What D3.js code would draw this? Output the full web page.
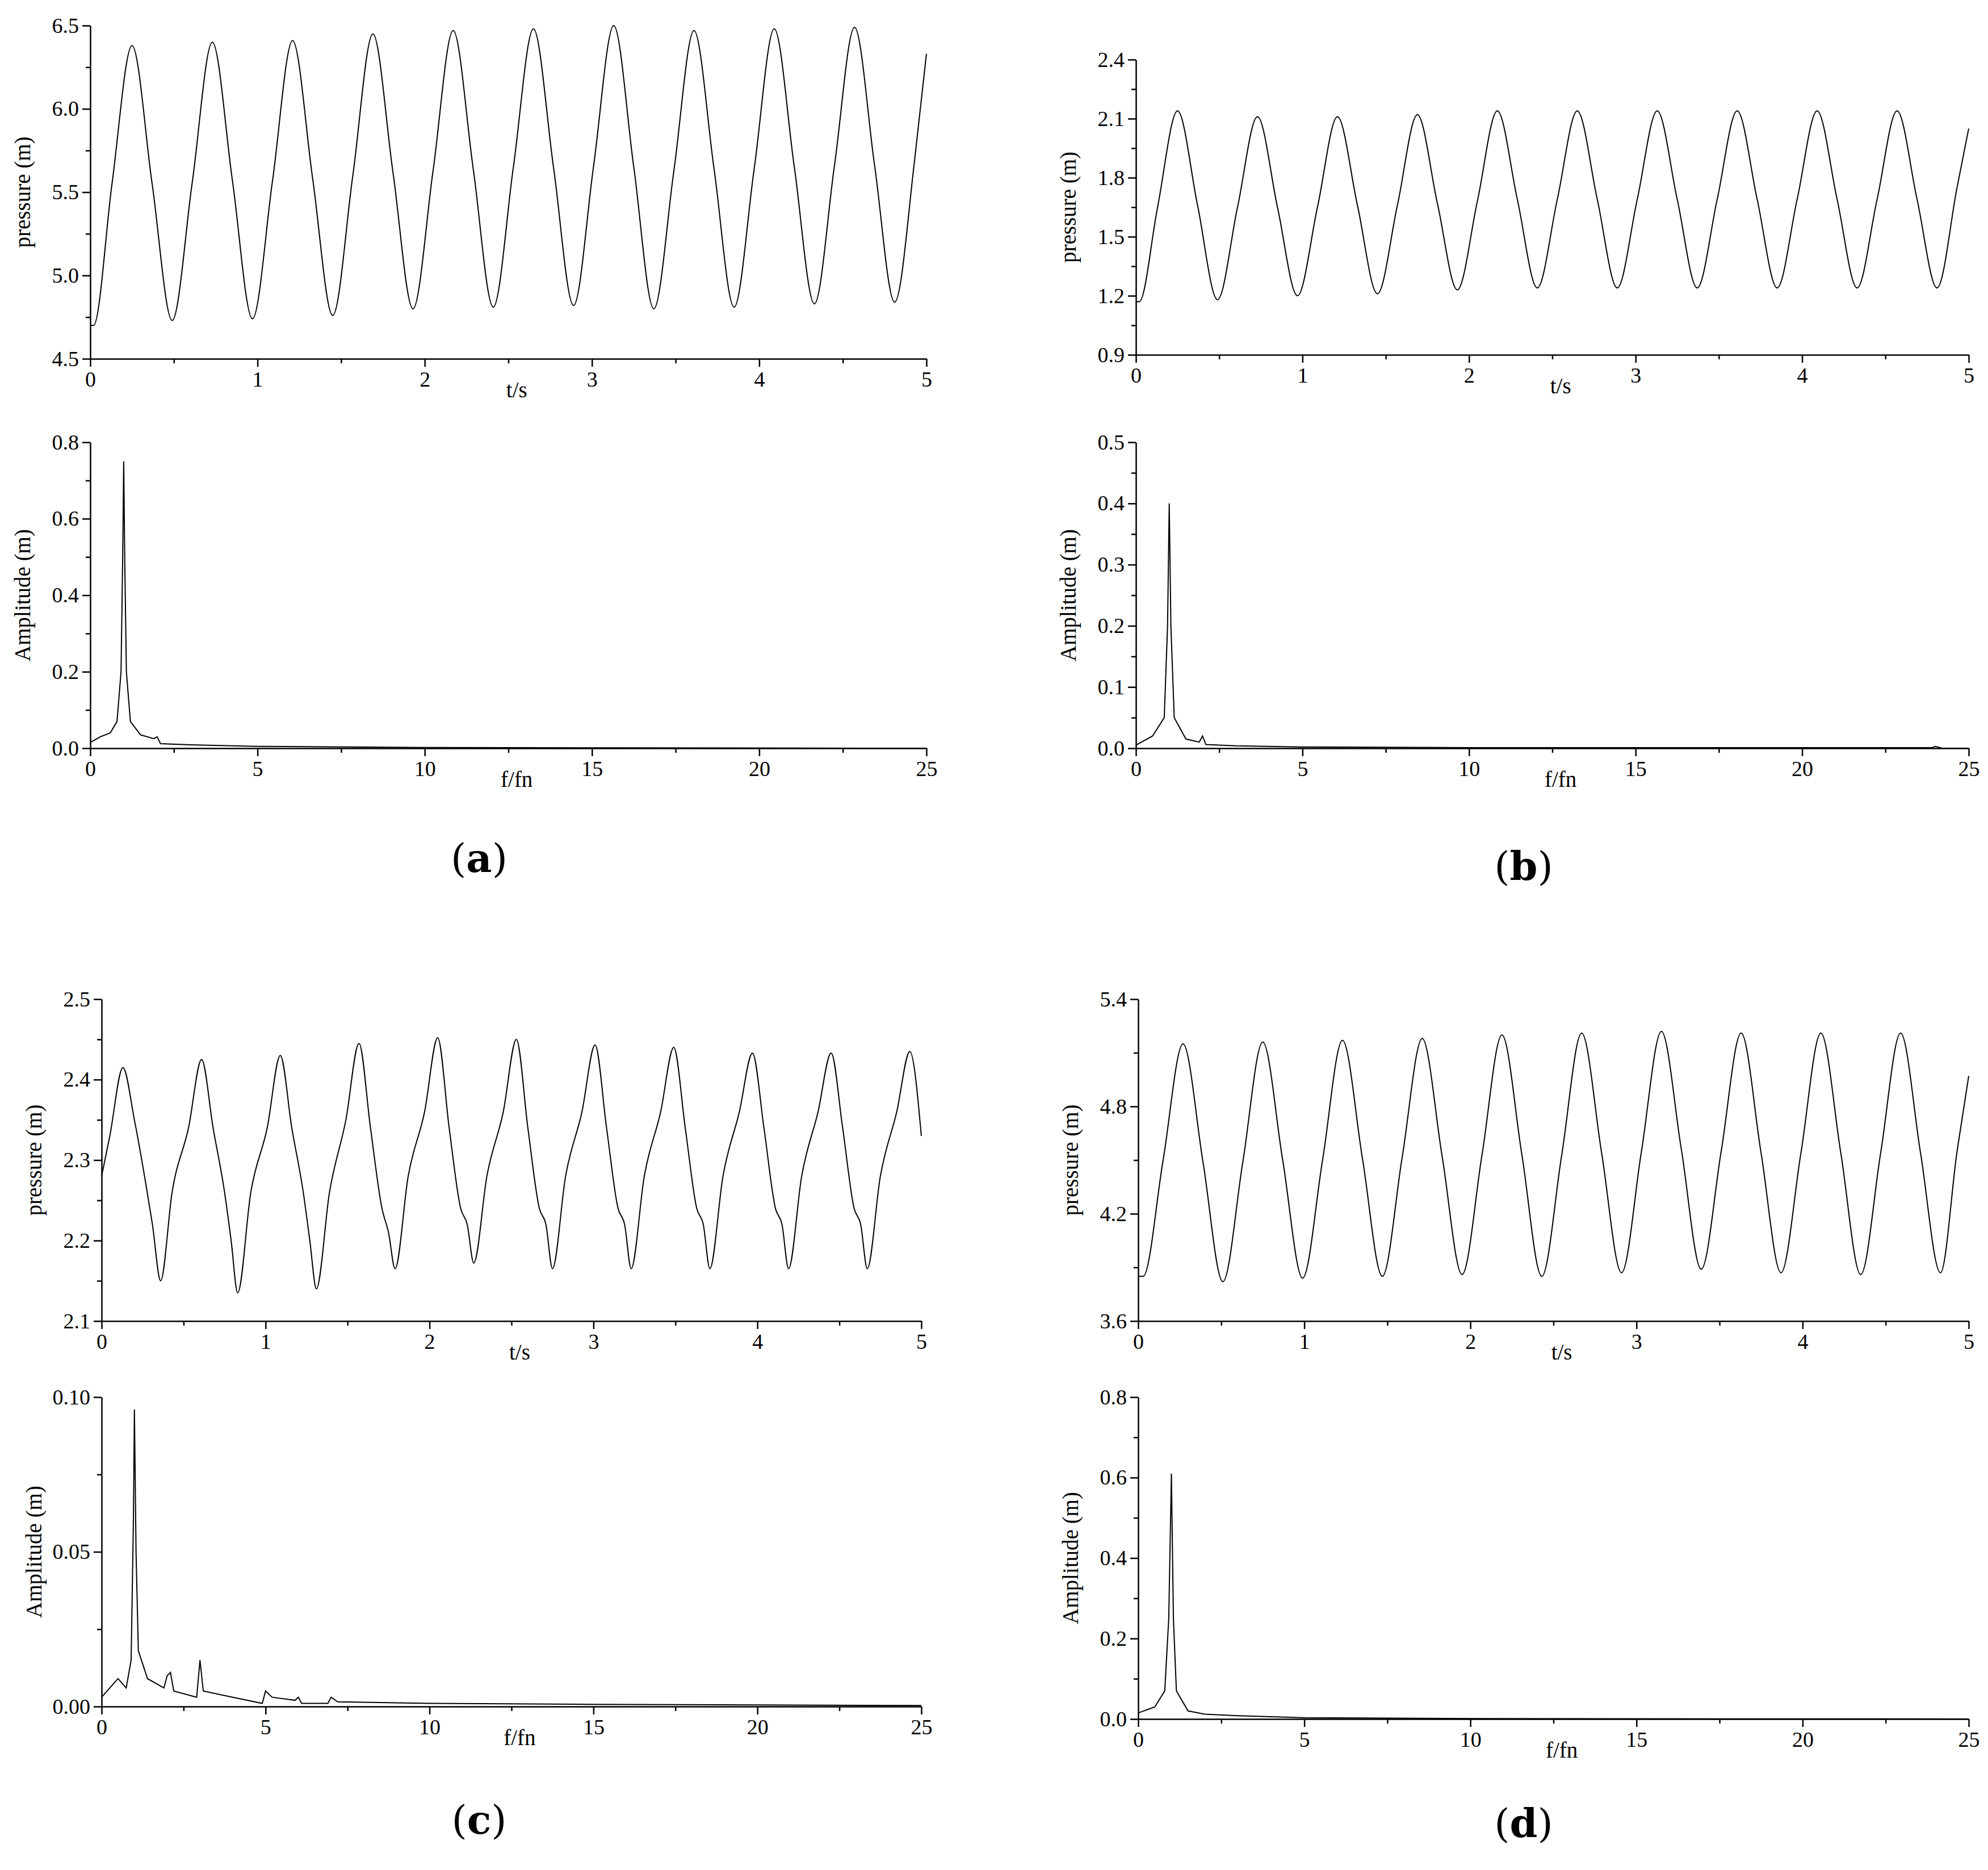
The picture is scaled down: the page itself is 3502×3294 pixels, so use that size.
<!DOCTYPE html>
<html><head><meta charset="utf-8">
<script src="https://cdn.jsdelivr.net/npm/d3@7"></script>
<style>body{margin:0;background:#fff}</style></head>
<body><svg id="c" width="3502" height="3294"></svg>
<script>
// ---- data ----
const timeA = [[0,4.70],[0.02,4.70],[0.13,5.55],[0.25,6.38],[0.37,5.55],[0.49,4.73],[0.61,5.56],[0.73,6.40],[0.85,5.57],[0.97,4.74],[1.09,5.57],[1.21,6.41],[1.33,5.58],[1.45,4.76],[1.57,5.60],[1.69,6.45],[1.81,5.62],[1.93,4.80],[2.05,5.63],[2.17,6.47],[2.29,5.64],[2.41,4.81],[2.53,5.65],[2.65,6.48],[2.77,5.65],[2.89,4.82],[3.01,5.66],[3.13,6.50],[3.25,5.65],[3.37,4.80],[3.49,5.63],[3.61,6.47],[3.73,5.64],[3.85,4.81],[3.97,5.64],[4.09,6.48],[4.21,5.65],[4.33,4.83],[4.45,5.66],[4.57,6.49],[4.69,5.66],[4.81,4.84],[4.93,5.70],[5.0,6.33]];
const timeB = [[0,1.17],[0.02,1.17],[0.13,1.65],[0.25,2.14],[0.37,1.66],[0.49,1.18],[0.61,1.65],[0.73,2.11],[0.85,1.65],[0.97,1.20],[1.09,1.65],[1.21,2.11],[1.33,1.66],[1.45,1.21],[1.57,1.66],[1.69,2.12],[1.81,1.67],[1.93,1.23],[2.05,1.68],[2.17,2.14],[2.29,1.69],[2.41,1.24],[2.53,1.69],[2.65,2.14],[2.77,1.69],[2.89,1.24],[3.01,1.69],[3.13,2.14],[3.25,1.69],[3.37,1.24],[3.49,1.69],[3.61,2.14],[3.73,1.69],[3.85,1.24],[3.97,1.69],[4.09,2.14],[4.21,1.69],[4.33,1.24],[4.45,1.69],[4.57,2.14],[4.69,1.69],[4.81,1.24],[4.93,1.75],[5.0,2.05]];
const timeC = [[0,2.28],[0.05,2.33],[0.13,2.415],[0.2,2.35],[0.27,2.27],[0.31,2.22],[0.36,2.15],[0.43,2.26],[0.53,2.34],[0.61,2.425],[0.68,2.34],[0.75,2.26],[0.79,2.20],[0.83,2.135],[0.91,2.26],[1.01,2.34],[1.09,2.43],[1.16,2.34],[1.23,2.26],[1.27,2.20],[1.31,2.14],[1.39,2.26],[1.49,2.35],[1.57,2.445],[1.64,2.34],[1.71,2.24],[1.75,2.21],[1.79,2.165],[1.87,2.28],[1.97,2.36],[2.05,2.452],[2.12,2.34],[2.19,2.24],[2.23,2.22],[2.27,2.172],[2.35,2.28],[2.45,2.36],[2.53,2.45],[2.60,2.34],[2.67,2.24],[2.71,2.22],[2.75,2.165],[2.83,2.28],[2.93,2.36],[3.01,2.443],[3.08,2.34],[3.15,2.24],[3.19,2.22],[3.23,2.165],[3.31,2.28],[3.41,2.36],[3.49,2.44],[3.56,2.34],[3.63,2.24],[3.67,2.22],[3.71,2.165],[3.79,2.28],[3.89,2.36],[3.97,2.433],[4.04,2.34],[4.11,2.24],[4.15,2.22],[4.19,2.165],[4.27,2.28],[4.37,2.36],[4.45,2.433],[4.52,2.34],[4.59,2.24],[4.63,2.22],[4.67,2.165],[4.75,2.28],[4.85,2.36],[4.93,2.435],[5.0,2.33]];
const timeD = [[0,3.85],[0.03,3.85],[0.15,4.50],[0.27,5.15],[0.39,4.49],[0.51,3.82],[0.63,4.49],[0.75,5.16],[0.87,4.50],[0.99,3.84],[1.11,4.50],[1.23,5.17],[1.35,4.51],[1.47,3.85],[1.59,4.52],[1.71,5.18],[1.83,4.52],[1.95,3.86],[2.07,4.53],[2.19,5.20],[2.31,4.53],[2.43,3.85],[2.55,4.53],[2.67,5.21],[2.79,4.54],[2.91,3.87],[3.03,4.55],[3.15,5.22],[3.27,4.56],[3.39,3.89],[3.51,4.55],[3.63,5.21],[3.75,4.54],[3.87,3.87],[3.99,4.54],[4.11,5.21],[4.23,4.54],[4.35,3.86],[4.47,4.54],[4.59,5.21],[4.71,4.54],[4.83,3.87],[4.93,4.55],[5.0,4.97]];
const specA = [[0,0.015],[0.3,0.03],[0.6,0.04],[0.8,0.07],[0.92,0.2],[0.97,0.5],[1.0,0.75],[1.03,0.5],[1.08,0.2],[1.2,0.07],[1.5,0.035],[1.9,0.025],[2.0,0.03],[2.1,0.012],[3,0.009],[5,0.005],[10,0.002],[15,0.001],[25,0.0]];
const specB = [[0,0.005],[0.5,0.02],[0.85,0.05],[0.95,0.2],[1.0,0.4],[1.05,0.2],[1.15,0.05],[1.5,0.015],[1.9,0.01],[2.0,0.02],[2.1,0.006],[3,0.004],[5,0.002],[10,0.001],[23.9,0.001],[24,0.003],[24.2,0.0],[25,0]];
const specC = [[0,0.003],[0.5,0.009],[0.75,0.006],[0.9,0.015],[0.97,0.06],[1.0,0.096],[1.05,0.05],[1.12,0.018],[1.4,0.009],[1.9,0.006],[2.0,0.010],[2.1,0.011],[2.2,0.005],[2.9,0.003],[3.0,0.015],[3.1,0.005],[4,0.003],[4.9,0.001],[5,0.005],[5.2,0.003],[5.9,0.002],[6,0.003],[6.1,0.001],[6.9,0.001],[7,0.003],[7.2,0.0015],[10,0.001],[15,0.0007],[25,0.0003]];
const specD = [[0,0.015],[0.5,0.03],[0.8,0.07],[0.92,0.25],[1.0,0.61],[1.06,0.25],[1.15,0.07],[1.5,0.02],[2,0.012],[3,0.008],[5,0.003],[10,0.001],[25,0]];
const timeTicks = [0,1,2,3,4,5];
const freqTicks = [0,5,10,15,20,25];
const panelLabels = ["a","b","c","d"];

const svg = d3.select("#c");
const FONT = "Liberation Serif, Times New Roman, serif";

function plot(o){
  const x = d3.scaleLinear().domain(o.xd).range([o.x0,o.x1]);
  const y = d3.scaleLinear().domain(o.yd).range([o.y1,o.y0]);
  const g = svg.append("g");
  g.append("g").attr("transform",`translate(0,${o.y1})`)
    .call(d3.axisBottom(x).tickValues(o.xminor).tickSize(8).tickFormat(""))
    .call(s=>s.select(".domain").remove());
  g.append("g").attr("transform",`translate(${o.x0},0)`)
    .call(d3.axisLeft(y).tickValues(o.yminor).tickSize(8).tickFormat(""))
    .call(s=>s.select(".domain").remove());
  g.append("g").attr("transform",`translate(0,${o.y1})`)
    .call(d3.axisBottom(x).tickValues(o.xt).tickSize(14).tickSizeOuter(0).tickPadding(8).tickFormat(o.xf));
  g.append("g").attr("transform",`translate(${o.x0},0)`)
    .call(d3.axisLeft(y).tickValues(o.yt).tickSize(14).tickSizeOuter(0).tickPadding(6).tickFormat(o.yf));
  g.selectAll(".tick text").attr("font-family",FONT).attr("font-size",38).attr("fill","#000");
  g.selectAll("line,path.domain").attr("stroke","#000").attr("stroke-width",2.5);
  g.append("path").datum(o.data)
    .attr("d",d3.line().x(d=>x(d[0])).y(d=>y(d[1])).curve(o.curve||d3.curveLinear))
    .attr("fill","none").attr("stroke","#000").attr("stroke-width",2);
  g.append("text").attr("x",x(o.xd[1]/2)+(o.x1-o.x0)*0.01).attr("y",o.y1+68)
    .attr("text-anchor","middle").attr("font-family",FONT).attr("font-size",39).text(o.xl);
  g.append("text").attr("transform",`translate(${o.x0-106},${(o.y0+o.y1)/2}) rotate(-90)`)
    .attr("text-anchor","middle").attr("font-family",FONT).attr("font-size",39).text(o.yl);
}
const r = (a,b,s)=>d3.range(a,b+s/2,s);
const cols = [{x0:159,x1:1632},{x0:2001,x1:3468}];
const cfg = [
 {c:0,tp:[45,632],sp:[779,1318],td:timeA,yd:[4.5,6.5],yt:r(4.5,6.5,0.5),ym:r(4.75,6.25,0.5),yf:d3.format(".1f"),
  sd:specA,sy:[0,0.8],syt:r(0,0.8,0.2),sym:r(0.1,0.7,0.2),syf:d3.format(".1f"),lab:[844,1512]},
 {c:1,tp:[105,625],sp:[779,1318],td:timeB,yd:[0.9,2.4],yt:r(0.9,2.4,0.3),ym:r(1.05,2.25,0.3),yf:d3.format(".1f"),
  sd:specB,sy:[0,0.5],syt:r(0,0.5,0.1),sym:r(0.05,0.45,0.1),syf:d3.format(".1f"),lab:[2684,1526]},
 {c:0,tp:[1760,2327],sp:[2461,3006],td:timeC,yd:[2.1,2.5],yt:r(2.1,2.5,0.1),ym:r(2.15,2.45,0.1),yf:d3.format(".1f"),
  sd:specC,sy:[0,0.1],syt:r(0,0.1,0.05),sym:r(0.025,0.075,0.05),syf:d3.format(".2f"),lab:[844,3206],x0:179,x1:1623},
 {c:1,tp:[1760,2327],sp:[2461,3028],td:timeD,yd:[3.6,5.4],yt:r(3.6,5.4,0.6),ym:r(3.9,5.1,0.6),yf:d3.format(".1f"),
  sd:specD,sy:[0,0.8],syt:r(0,0.8,0.2),sym:r(0.1,0.7,0.2),syf:d3.format(".1f"),lab:[2684,3212],x0:2005,x1:3468}
];
cfg.forEach((p,i)=>{
  const x0 = p.x0||cols[p.c].x0, x1 = p.x1||cols[p.c].x1;
  plot({x0,x1,y0:p.tp[0],y1:p.tp[1],xd:[0,5],yd:p.yd,xt:timeTicks,xminor:r(0.5,4.5,1),yt:p.yt,yminor:p.ym,
    xf:d3.format("d"),yf:p.yf,data:p.td,curve:d3.curveMonotoneX,xl:"t/s",yl:"pressure (m)"});
  plot({x0,x1,y0:p.sp[0],y1:p.sp[1],xd:[0,25],yd:p.sy,xt:freqTicks,xminor:r(2.5,22.5,5),yt:p.syt,yminor:p.sym,
    xf:d3.format("d"),yf:p.syf,data:p.sd,xl:"f/fn",yl:"Amplitude (m)"});
  const t = svg.append("text").attr("x",p.lab[0]).attr("y",p.lab[1]+24).attr("text-anchor","middle")
    .attr("font-family","DejaVu Serif, serif").attr("font-size",70);
  t.append("tspan").text("(");
  t.append("tspan").attr("font-weight","bold").text(panelLabels[i]);
  t.append("tspan").text(")");
});
</script></body></html>
